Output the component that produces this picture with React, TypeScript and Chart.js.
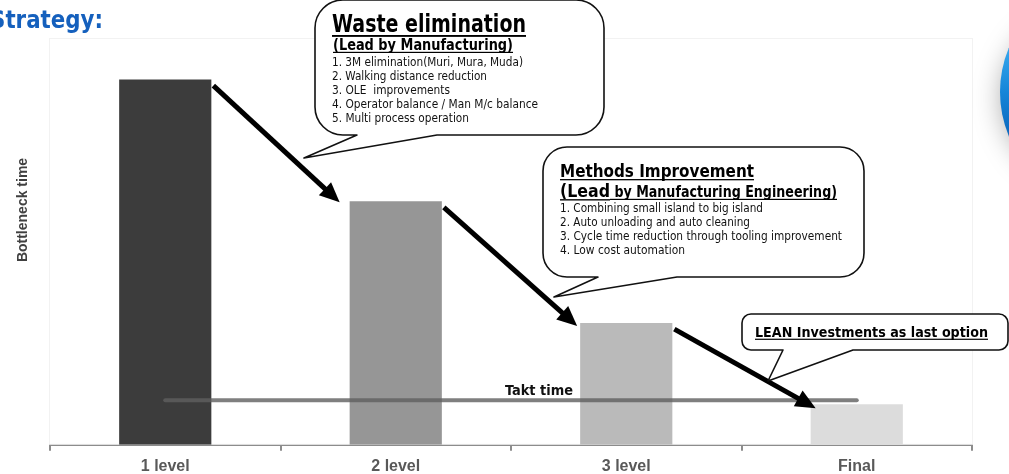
import React, { useEffect, useRef } from "react";
import { Chart, registerables } from "chart.js";

Chart.register(...registerables);

// ---------- data ----------
const categories = ["1 level", "2 level", "3 level", "Final"];
const bottleneckTime = [90, 60, 30, 10];
const taktTime = [11, 11, 11, 11];
const barColors = ["#3c3c3c", "#969696", "#bababa", "#dcdcdc"];

const yAxisTitle = "Bottleneck time";
const taktLabel = "Takt time";
const pageTitle = "Strategy:";

const wasteTitle = "Waste elimination";
const wasteLead = "(Lead by Manufacturing)";
const wasteItems = [
  "1. 3M elimination(Muri, Mura, Muda)",
  "2. Walking distance reduction",
  "3. OLE  improvements",
  "4. Operator balance / Man M/c balance",
  "5. Multi process operation",
];
const methodsTitle = "Methods Improvement";
const methodsLeadA = "(Lead";
const methodsLeadB = " by Manufacturing Engineering)";
const methodsItems = [
  "1. Combining small island to big island",
  "2. Auto unloading and auto cleaning",
  "3. Cycle time reduction through tooling improvement",
  "4. Low cost automation",
];
const leanNote = "LEAN Investments as last option";

// ---------- drawing helpers ----------
function fitText(
  ctx: CanvasRenderingContext2D,
  text: string,
  x: number,
  y: number,
  font: string,
  size: number,
  width: number,
  color: string,
  underline = false
) {
  ctx.save();
  ctx.font = font;
  ctx.fillStyle = color;
  ctx.textAlign = "left";
  ctx.textBaseline = "alphabetic";
  const w = ctx.measureText(text).width;
  const s = width / w;
  ctx.translate(x, y);
  ctx.scale(s, 1);
  ctx.fillText(text, 0, 0);
  if (underline) {
    ctx.fillRect(0, size * 0.12, w, Math.max(1.2, size * 0.075));
  }
  ctx.restore();
}

function callout(
  ctx: CanvasRenderingContext2D,
  x: number,
  y: number,
  w: number,
  h: number,
  r: number,
  t1: number,
  tipX: number,
  tipY: number,
  t2: number
) {
  ctx.save();
  ctx.beginPath();
  ctx.moveTo(x + r, y);
  ctx.lineTo(x + w - r, y);
  ctx.arcTo(x + w, y, x + w, y + r, r);
  ctx.lineTo(x + w, y + h - r);
  ctx.arcTo(x + w, y + h, x + w - r, y + h, r);
  ctx.lineTo(t2, y + h);
  ctx.lineTo(tipX, tipY);
  ctx.lineTo(t1, y + h);
  ctx.lineTo(x + r, y + h);
  ctx.arcTo(x, y + h, x, y + h - r, r);
  ctx.lineTo(x, y + r);
  ctx.arcTo(x, y, x + r, y, r);
  ctx.closePath();
  ctx.fillStyle = "#ffffff";
  ctx.fill();
  ctx.lineWidth = 1.6;
  ctx.strokeStyle = "#111111";
  ctx.lineJoin = "round";
  ctx.stroke();
  ctx.restore();
}

function arrow(ctx: CanvasRenderingContext2D, x1: number, y1: number, x2: number, y2: number) {
  const a = Math.atan2(y2 - y1, x2 - x1);
  const headLen = 20;
  const headW = 9;
  const bx = x2 - headLen * Math.cos(a);
  const by = y2 - headLen * Math.sin(a);
  ctx.save();
  ctx.strokeStyle = "#000";
  ctx.fillStyle = "#000";
  ctx.lineWidth = 5;
  ctx.lineCap = "butt";
  ctx.beginPath();
  ctx.moveTo(x1, y1);
  ctx.lineTo(bx + 2 * Math.cos(a), by + 2 * Math.sin(a));
  ctx.stroke();
  ctx.beginPath();
  ctx.moveTo(x2, y2);
  ctx.lineTo(bx - headW * Math.sin(a), by + headW * Math.cos(a));
  ctx.lineTo(bx + headW * Math.sin(a), by - headW * Math.cos(a));
  ctx.closePath();
  ctx.fill();
  ctx.restore();
}

const SANS = "'DejaVu Sans', Verdana, sans-serif";
const COND = "'DejaVu Sans Condensed', 'DejaVu Sans', sans-serif";

const backgroundPlugin = {
  id: "bgDecor",
  beforeDatasetsDraw(chart: any) {
    const ctx = chart.ctx as CanvasRenderingContext2D;
    const a = chart.chartArea;
    ctx.save();
    ctx.strokeStyle = "#f2f2f2";
    ctx.lineWidth = 1;
    ctx.strokeRect(a.left - 0.5, a.top - 0.5, a.right - a.left + 1, a.bottom - a.top);
    ctx.restore();
  },
};

const annotationPlugin = {
  id: "annotations",
  afterDraw(chart: any) {
    const ctx = chart.ctx as CanvasRenderingContext2D;
    const bars = chart.getDatasetMeta(1).data;
    const arrowEnds = [
      [-10, 1],
      [-3, 3],
      [5, 4],
    ];

    // arrows between consecutive bars
    for (let i = 0; i < bars.length - 1; i++) {
      const b = bars[i];
      const n = bars[i + 1];
      const sx = b.x + b.width / 2 + 2;
      const sy = b.y + 6;
      const ex = n.x - n.width / 2 + arrowEnds[i][0];
      const ey = n.y + arrowEnds[i][1];
      arrow(ctx, sx, sy, ex, ey);
    }

    // takt time label
    fitText(ctx, taktLabel, 505, 395, `bold 14px ${COND}`, 14, 68, "#111111");

    // y axis title
    ctx.save();
    ctx.translate(27, 210);
    ctx.rotate(-Math.PI / 2);
    ctx.font = "bold 14px 'Liberation Sans', Arial, sans-serif";
    ctx.fillStyle = "#404040";
    ctx.textAlign = "center";
    ctx.textBaseline = "alphabetic";
    ctx.fillText(yAxisTitle, 0, 0);
    ctx.restore();

    // page title
    fitText(ctx, pageTitle, -10, 28, `bold 24px ${SANS}`, 24, 113, "#1560bd");

    // blue decorative element at right edge
    ctx.save();
    ctx.shadowColor = "rgba(0,0,0,0.4)";
    ctx.shadowBlur = 30;
    ctx.beginPath();
    ctx.ellipse(1112, 98, 108, 92, 0, 0, Math.PI * 2);
    ctx.fillStyle = "#f0f0f0";
    ctx.fill();
    ctx.restore();
    ctx.save();
    ctx.beginPath();
    ctx.arc(1114, 92, 114, 0, Math.PI * 2);
    const g = ctx.createLinearGradient(1000, 50, 1009, 135);
    g.addColorStop(0, "#35a6ec");
    g.addColorStop(0.5, "#1685d8");
    g.addColorStop(1, "#0b68bd");
    ctx.fillStyle = g;
    ctx.fill();
    ctx.restore();

    // callout 1
    callout(ctx, 315, 0, 289, 135, 28, 357, 304, 158, 437);
    fitText(ctx, wasteTitle, 332, 32, `bold 25px ${SANS}`, 25, 194, "#000", true);
    fitText(ctx, wasteLead, 333, 50, `bold 15px ${SANS}`, 15, 180, "#000", true);
    const wasteW = [191, 155, 118, 206, 137];
    wasteItems.forEach((t, i) => {
      fitText(ctx, t, 332, 66 + i * 14, `13px ${COND}`, 13, wasteW[i], "#111");
    });

    // callout 2
    callout(ctx, 543, 147, 321, 130, 24, 598, 554, 297, 677);
    fitText(ctx, methodsTitle, 560, 177, `bold 17px ${SANS}`, 17, 194, "#000", true);
    fitText(ctx, methodsLeadA, 560, 197, `bold 18px ${SANS}`, 18, 50, "#000", true);
    fitText(ctx, methodsLeadB, 610, 197, `bold 15px ${SANS}`, 15, 227, "#000", true);
    const methodsW = [203, 190, 282, 125];
    methodsItems.forEach((t, i) => {
      fitText(ctx, t, 560, 212 + i * 14, `13px ${COND}`, 13, methodsW[i], "#111");
    });

    // callout 3
    callout(ctx, 742, 314, 266, 36, 9, 783, 768, 381, 853);
    fitText(ctx, leanNote, 755, 337, `bold 14px ${SANS}`, 14, 233, "#000", true);
  },
};

export default function App() {
  const canvasRef = useRef<HTMLCanvasElement | null>(null);

  useEffect(() => {
    const canvas = canvasRef.current;
    if (!canvas) return;
    const chart = new Chart(canvas, {
      type: "bar",
      data: {
        labels: categories,
        datasets: [
          {
            type: "line",
            label: taktLabel,
            data: taktTime,
            borderColor: "rgba(95,95,95,0.8)",
            borderWidth: 4,
            borderCapStyle: "round",
            pointRadius: 0,
            fill: false,
            tension: 0,
          } as any,
          {
            type: "bar",
            label: yAxisTitle,
            data: bottleneckTime,
            backgroundColor: barColors,
            borderWidth: 0,
            barPercentage: 0.4,
            categoryPercentage: 1,
          } as any,
        ],
      },
      options: {
        responsive: false,
        animation: false,
        layout: { padding: { left: 50, right: 37, top: 39, bottom: 0 } },
        plugins: {
          legend: { display: false },
          tooltip: { enabled: false },
        },
        scales: {
          x: {
            offset: true,
            grid: {
              display: true,
              drawOnChartArea: false,
              drawTicks: true,
              tickLength: 6,
              color: "#8c8c8c",
              lineWidth: 2,
              offset: true,
            },
            border: { display: true, color: "#8c8c8c", width: 2 },
            ticks: {
              color: "#595959",
              padding: 6,
              font: { family: "'Liberation Sans', Arial, sans-serif", size: 16, weight: "bold" },
            },
          },
          y: {
            display: false,
            min: 0,
            max: 100,
          },
        },
      },
      plugins: [backgroundPlugin, annotationPlugin],
    });
    return () => chart.destroy();
  }, []);

  return (
    <div
      style={{
        position: "fixed",
        left: 0,
        top: 0,
        width: 1009,
        height: 474,
        overflow: "hidden",
        background: "#fff",
      }}
    >
      <canvas ref={canvasRef} width={1009} height={482} style={{ display: "block" }} />
    </div>
  );
}
